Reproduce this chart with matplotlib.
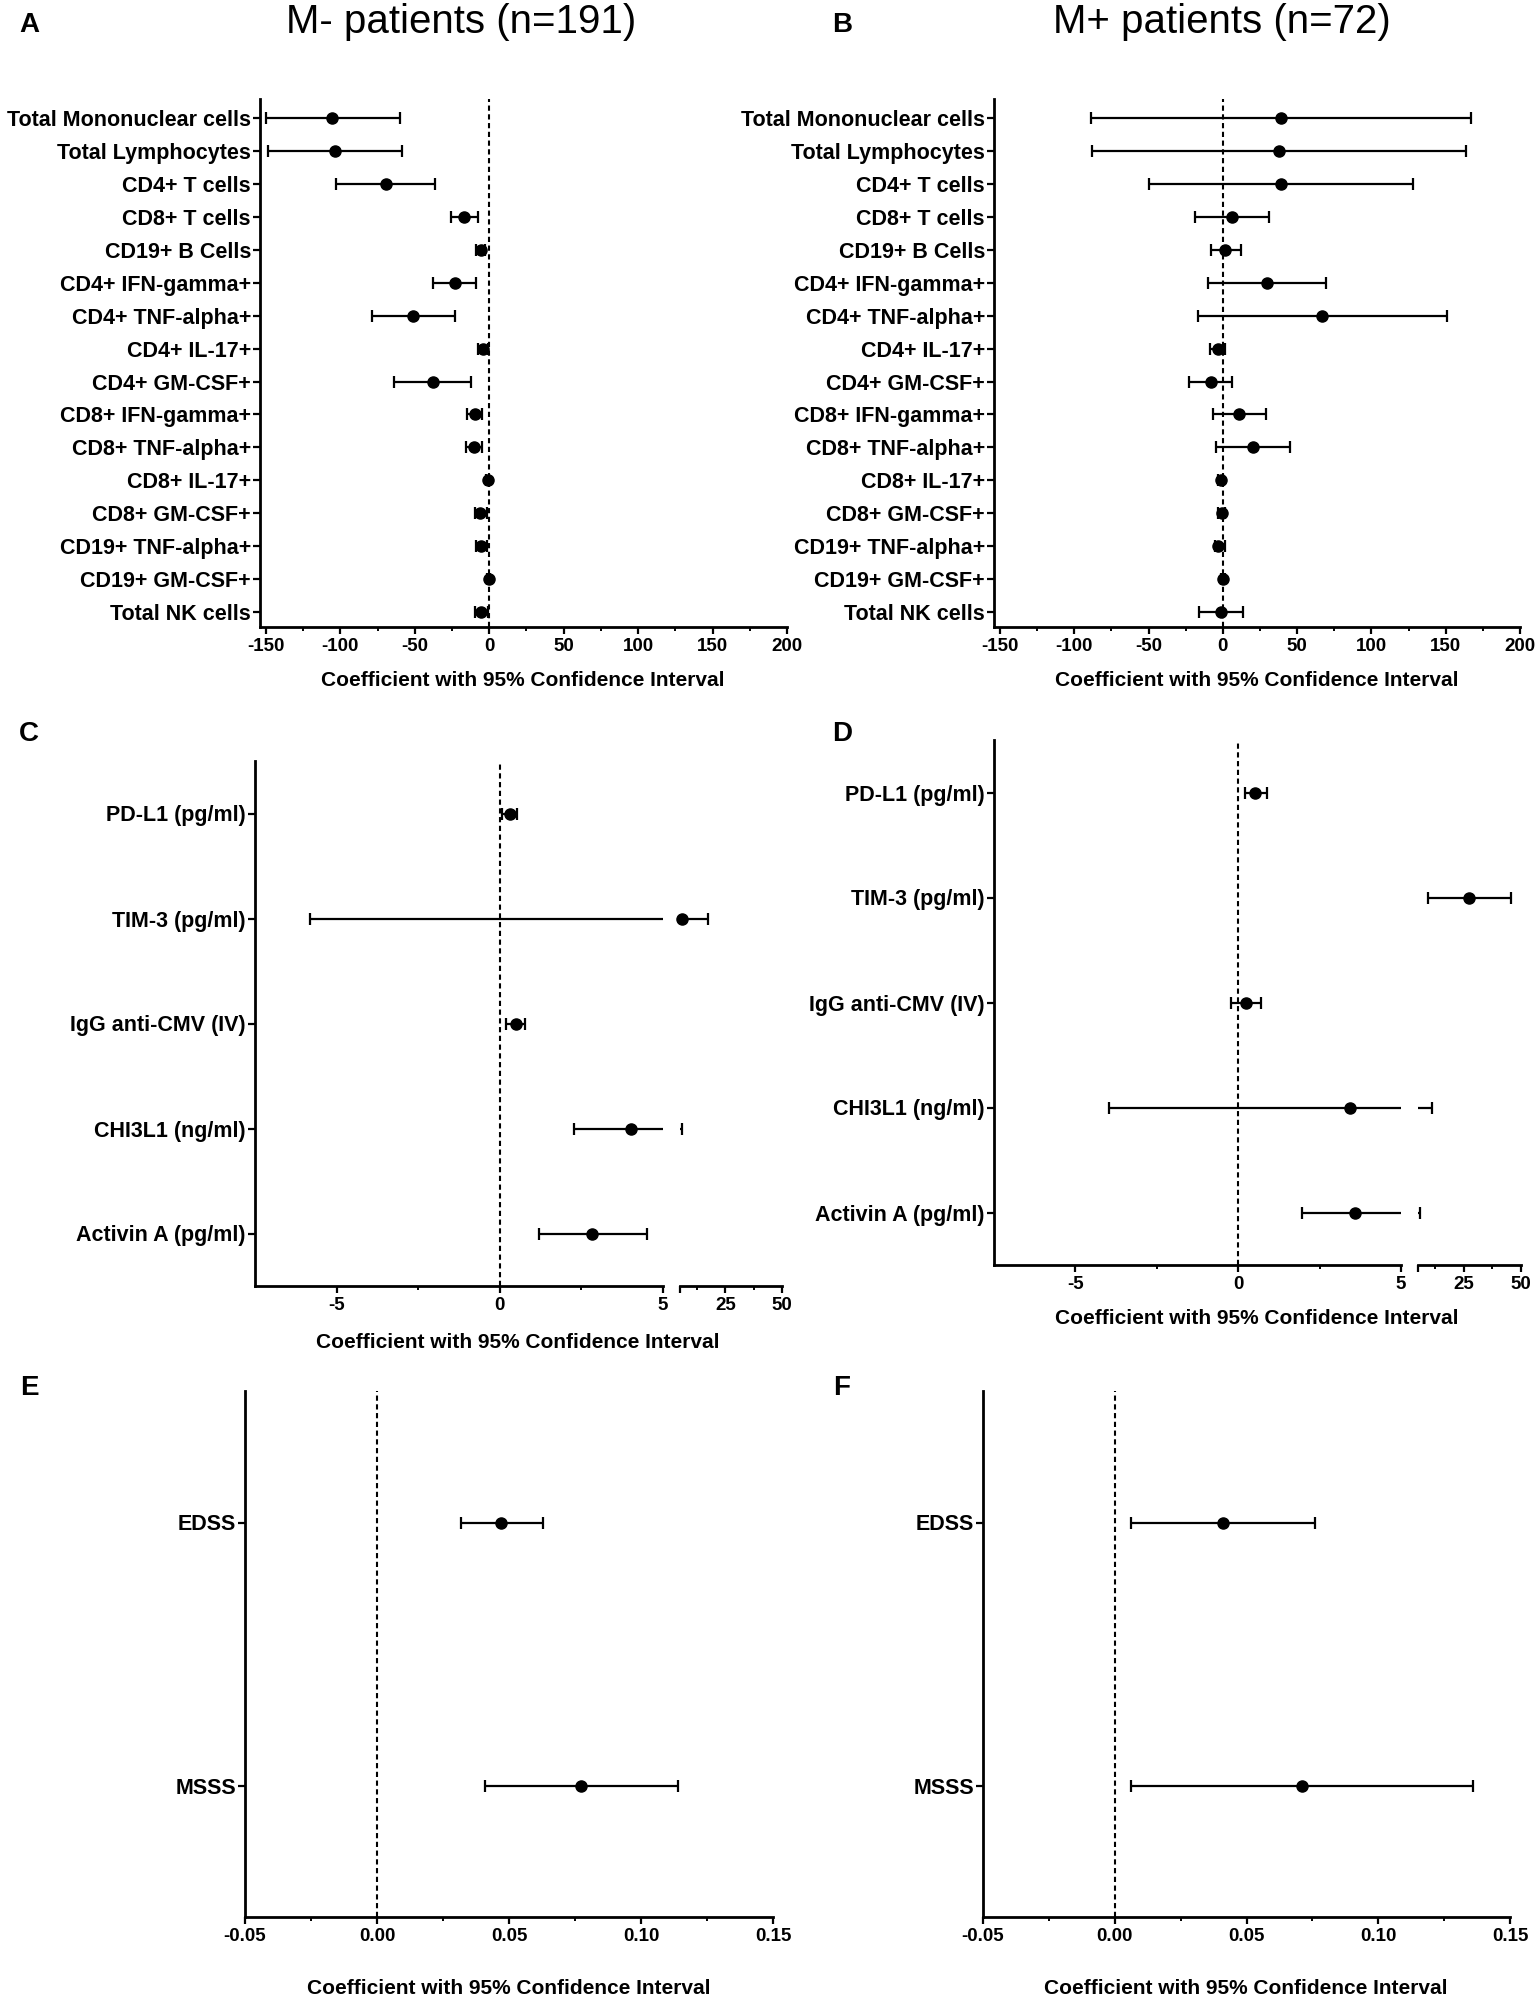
import numpy as np
import matplotlib
matplotlib.use('Agg')
from matplotlib import pyplot as plt
from matplotlib.ticker import MultipleLocator, FixedLocator

plt.rcParams['font.family'] = ['Liberation Sans', 'DejaVu Sans']
plt.rcParams['font.weight'] = 'bold'
plt.rcParams['axes.unicode_minus'] = False

W, H = 1536, 1998

# panels A / B: cell populations
cell_labels = ['Total Mononuclear cells', 'Total Lymphocytes', 'CD4+ T cells', 'CD8+ T cells',
               'CD19+ B Cells', 'CD4+ IFN-gamma+', 'CD4+ TNF-alpha+', 'CD4+ IL-17+',
               'CD4+ GM-CSF+', 'CD8+ IFN-gamma+', 'CD8+ TNF-alpha+', 'CD8+ IL-17+',
               'CD8+ GM-CSF+', 'CD19+ TNF-alpha+', 'CD19+ GM-CSF+', 'Total NK cells']
a_coef = [-105.5, -103.8, -69.5, -16.8, -5.8, -23.3, -51.0, -4.1, -37.7, -9.6, -10.0, -1.0, -6.2, -5.8, -0.3, -5.5]
a_low = [-150.0, -148.6, -102.7, -26.0, -8.6, -38.0, -79.0, -7.5, -63.7, -15.0, -15.8, -2.4, -9.6, -9.2, -1.4, -9.9]
a_high = [-60.0, -58.6, -36.6, -7.5, -2.7, -8.9, -23.0, -1.0, -12.0, -4.8, -4.8, 0.0, -1.7, -1.4, 0.7, -1.0]

b_coef = [39.3, 37.9, 39.3, 6.1, 1.7, 30.0, 67.0, -3.4, -7.8, 10.9, 20.0, -1.4, -0.7, -3.0, 0.0, -1.4]
b_low = [-88.8, -88.0, -49.5, -18.4, -7.8, -10.2, -16.4, -8.5, -22.9, -6.8, -4.8, -3.0, -3.0, -5.5, -1.4, -16.0]
b_high = [167.0, 163.5, 128.0, 31.0, 12.3, 69.6, 150.7, 1.7, 6.5, 29.0, 45.4, 0.3, 1.7, 1.7, 1.4, 13.3]

# panels C / D: soluble markers
marker_labels = ['PD-L1 (pg/ml)', 'TIM-3 (pg/ml)', 'IgG anti-CMV (IV)', 'CHI3L1 (ng/ml)', 'Activin A (pg/ml)']
c_coef = [0.31, 5.7, 0.5, 4.03, 2.84]
c_low = [0.08, -5.8, 0.2, 2.27, 1.2]
c_high = [0.52, 17.2, 0.78, 5.7, 4.5]

d_coef = [0.52, 27.2, 0.24, 3.43, 3.59]
d_low = [0.2, 9.3, -0.23, -3.97, 1.95]
d_high = [0.88, 45.6, 0.7, 10.9, 5.7]

# panels E / F: clinical scores
clinical_labels = ['EDSS', 'MSSS']
e_coef = [0.0471, 0.0771]
e_low = [0.032, 0.041]
e_high = [0.063, 0.114]

f_coef = [0.041, 0.071]
f_low = [0.006, 0.006]
f_high = [0.076, 0.136]

XLABEL = 'Coefficient with 95% Confidence Interval'
DASH = (0, (2.5, 1.7))
BREAK = 5


def rect(left, top, right, bottom):
    return [left / W, 1 - bottom / H, (right - left) / W, (bottom - top) / H]


def base_style(ax, show_left=True):
    for s in ['top', 'right']:
        ax.spines[s].set_visible(False)
    ax.spines['bottom'].set_linewidth(2)
    ax.spines['left'].set_linewidth(2)
    if not show_left:
        ax.spines['left'].set_visible(False)
        ax.tick_params(axis='y', left=False, labelleft=False)
    ax.tick_params(axis='x', which='major', length=5, width=1.6, pad=3, labelsize=13.5)
    ax.tick_params(axis='x', which='minor', length=3, width=1.4)
    ax.tick_params(axis='y', which='major', length=5, width=1.6, pad=1.5, labelsize=15.5)


def bars(ax, coef, low, high, y=None, markers=True):
    coef = np.array(coef)
    if y is None:
        y = np.arange(len(coef))
    err = [coef - np.array(low), np.array(high) - coef]
    ax.errorbar(coef, y, xerr=err, fmt='none', ecolor='black', elinewidth=1.6,
                capsize=4.2, capthick=1.6, zorder=3)
    if markers:
        ax.plot(coef, y, 'o', color='black', ms=8, zorder=4)


def forest(rc, labels, coef, low, high, xlim, ylim, major, minor, fmt=None):
    ax = fig.add_axes(rect(*rc))
    bars(ax, coef, low, high)
    ax.axvline(0, color='black', lw=1.5, ls=DASH, zorder=2)
    ax.set_ylim(*ylim)
    ax.xaxis.set_major_locator(MultipleLocator(major))
    ax.xaxis.set_minor_locator(MultipleLocator(minor))
    if fmt:
        ax.xaxis.set_major_formatter(fmt)
    ax.set_xlim(*xlim)
    ax.set_yticks(np.arange(len(labels)))
    ax.set_yticklabels(labels)
    base_style(ax)
    return ax


def broken(rc_left, rc_right, labels, coef, low, high):
    ax1 = fig.add_axes(rect(*rc_left))
    ax2 = fig.add_axes(rect(*rc_right))
    ylim = (len(labels) - 0.5, -0.5)
    y = np.arange(len(labels))
    coef, low, high = np.array(coef), np.array(low), np.array(high)
    left_rows = low < BREAK
    right_rows = high > BREAK
    bars(ax1, coef[left_rows], low[left_rows], high[left_rows], y[left_rows], markers=False)
    bars(ax2, coef[right_rows], low[right_rows], high[right_rows], y[right_rows], markers=False)
    for ax in (ax1, ax2):
        ax.set_ylim(*ylim)
    for xi, yi in zip(coef, y):
        target = ax1 if xi <= BREAK else ax2
        target.plot([xi], [yi], 'o', color='black', ms=8, zorder=4, clip_on=False)
    ax1.axvline(0, color='black', lw=1.5, ls=DASH, zorder=2)
    ax1.set_xlim(-7.5, BREAK)
    ax1.xaxis.set_major_locator(FixedLocator([-5, 0, 5]))
    ax1.xaxis.set_minor_locator(FixedLocator([-2.5, 2.5]))
    ax1.set_xticklabels(['-5', '0', '5'])
    ax1.set_yticks(y)
    ax1.set_yticklabels(labels)
    ax2.set_xlim(BREAK, 50)
    ax2.xaxis.set_major_locator(FixedLocator([5, 25, 50]))
    ax2.xaxis.set_minor_locator(FixedLocator([12.5, 37.5]))
    ax2.set_xticklabels(['', '25', '50'])
    base_style(ax1)
    base_style(ax2, show_left=False)
    return ax1, ax2


fig = plt.figure(figsize=(W / 100, H / 100), dpi=100)

yl_ab = (15.455, -0.58)
forest((260, 99, 787, 627), cell_labels, a_coef, a_low, a_high, (-154, 200), yl_ab, 50, 25)
forest((994, 99, 1520, 627), cell_labels, b_coef, b_low, b_high, (-154, 200), yl_ab, 50, 25)

broken((255, 761, 663, 1286), (680, 761, 782, 1286), marker_labels, c_coef, c_low, c_high)
broken((994, 740, 1401, 1265), (1418, 740, 1521, 1265), marker_labels, d_coef, d_low, d_high)

fmt2 = matplotlib.ticker.FormatStrFormatter('%.2f')
forest((245, 1391, 773, 1917), clinical_labels, e_coef, e_low, e_high, (-0.05, 0.15), (1.5, -0.5), 0.05, 0.025, fmt2)
forest((983, 1391, 1510, 1917), clinical_labels, f_coef, f_low, f_high, (-0.05, 0.15), (1.5, -0.5), 0.05, 0.025, fmt2)


def ftext(x, y, s, **kw):
    fig.text(x / W, 1 - y / H, s, ha='center', va='center', **kw)


ftext(461, 22, 'M- patients (n=191)', fontsize=29, fontweight='normal')
ftext(1222, 22, 'M+ patients (n=72)', fontsize=29, fontweight='normal')

for letter, x, y in [('A', 29, 25), ('B', 842, 25), ('C', 29, 734), ('D', 842, 734),
                     ('E', 29, 1388), ('F', 842, 1388)]:
    ftext(x, y, letter, fontsize=20, fontweight='bold')

for x, y in [(523, 681), (1257, 681), (518, 1342), (1257, 1319), (509, 1989), (1246, 1989)]:
    ftext(x, y, XLABEL, fontsize=15, fontweight='bold')

fig.savefig('out.png', dpi=100)
